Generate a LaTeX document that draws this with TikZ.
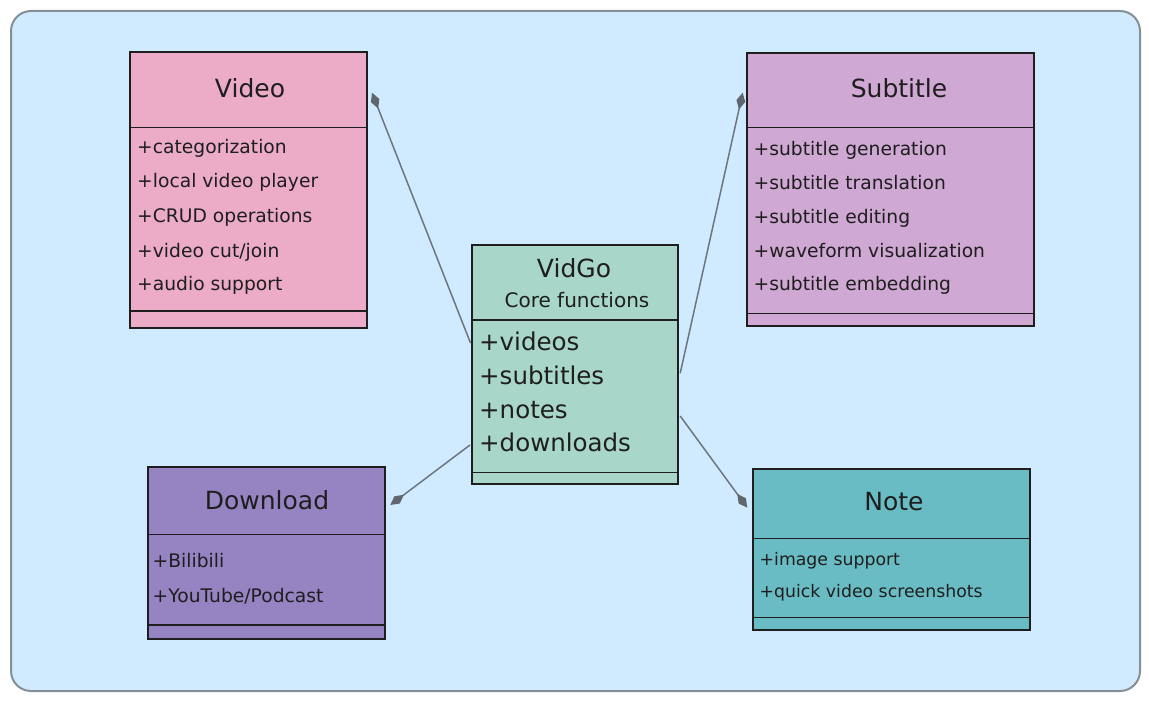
\documentclass[tikz,border=0pt]{standalone}
\usepackage{fontspec}
\setmainfont{DejaVu Sans}
\usetikzlibrary{arrows.meta,calc}
\definecolor{bgc}{HTML}{D0EBFF}
\definecolor{bgborder}{HTML}{868E96}
\definecolor{ink}{HTML}{1E1E1E}
\definecolor{videoc}{HTML}{ECACC7}
\definecolor{subc}{HTML}{CFA8D3}
\definecolor{downc}{HTML}{9583C2}
\definecolor{notec}{HTML}{6ABCC4}
\definecolor{corec}{HTML}{A8D6C8}
\definecolor{connc}{HTML}{6C7580}
\definecolor{diamc}{HTML}{5F666E}
\tikzset{
  umlbox/.style={draw=ink, line width=2pt, anchor=north west, inner sep=0pt},
  divider/.style={draw=ink, line width=1.1pt},
  ttl/.style={text=ink, font=\fontsize{25}{30}\selectfont, anchor=center, inner sep=0pt},
  subttl/.style={text=ink, font=\fontsize{20}{24}\selectfont, anchor=center, inner sep=0pt},
  item/.style={text=ink, font=\fontsize{18.7}{22}\selectfont, anchor=mid west, inner sep=0pt},
  noteitem/.style={text=ink, font=\fontsize{17.3}{21}\selectfont, anchor=mid west, inner sep=0pt},
  coreitem/.style={text=ink, font=\fontsize{24.5}{29}\selectfont, anchor=mid west, inner sep=0pt},
  conn/.style={draw=connc, line width=1.5pt, -{Diamond[length=17pt,width=9pt,fill=diamc,color=diamc]}}
}
\begin{document}
\begin{tikzpicture}[x=1pt,y=-1pt]
\useasboundingbox (0,0) rectangle (1149,701);
\node[draw=bgborder, fill=bgc, rounded corners=20pt, line width=2pt, minimum width=1129pt, minimum height=680pt, anchor=north west, inner sep=0pt] (bg) at (10,10) {};

% boxes
\node[umlbox, fill=videoc, minimum width=237pt, minimum height=276pt] (video) at (128.5,50.7) {};
\node[umlbox, fill=subc, minimum width=287pt, minimum height=273pt] (sub) at (745.7,51.7) {};
\node[umlbox, fill=corec, minimum width=205.7pt, minimum height=239pt] (core) at (471,244.3) {};
\node[umlbox, fill=downc, minimum width=237pt, minimum height=171.7pt] (down) at (147.3,466) {};
\node[umlbox, fill=notec, minimum width=277.3pt, minimum height=161.3pt] (note) at (751.7,467.7) {};

% dividers
\draw[divider] ($(video.north west)+(0,77)$) -- ($(video.north east)+(0,77)$);
\draw[divider] ($(video.north west)+(0,260.3)$) -- ($(video.north east)+(0,260.3)$);
\draw[divider] ($(sub.north west)+(0,75.6)$) -- ($(sub.north east)+(0,75.6)$);
\draw[divider] ($(sub.north west)+(0,261.6)$) -- ($(sub.north east)+(0,261.6)$);
\draw[divider] ($(core.north west)+(0,75.7)$) -- ($(core.north east)+(0,75.7)$);
\draw[divider] ($(core.north west)+(0,228.4)$) -- ($(core.north east)+(0,228.4)$);
\draw[divider] ($(down.north west)+(0,68.3)$) -- ($(down.north east)+(0,68.3)$);
\draw[divider] ($(down.north west)+(0,159)$) -- ($(down.north east)+(0,159)$);
\draw[divider] ($(note.north west)+(0,71)$) -- ($(note.north east)+(0,71)$);
\draw[divider] ($(note.north west)+(0,150)$) -- ($(note.north east)+(0,150)$);

% Video texts
\node[ttl] (videoT) at (250,88) {Video};
\node[item] (v1) at (137,151) {+categorization};
\node[item] (v2) at (137,185) {+local video player};
\node[item] (v3) at (137,219.5) {+CRUD operations};
\node[item] (v4) at (137,254.5) {+video cut/join};
\node[item] (v5) at (137,288) {+audio support};

% Subtitle texts
\node[ttl] (subT) at (899,88) {Subtitle};
\node[item] (s1) at (753.5,152.5) {+subtitle generation};
\node[item] (s2) at (753.5,186.5) {+subtitle translation};
\node[item] (s3) at (753.5,220.5) {+subtitle editing};
\node[item] (s4) at (753.5,254.5) {+waveform visualization};
\node[item] (s5) at (753.5,288) {+subtitle embedding};

% Core texts
\node[ttl] (coreT) at (574,268) {VidGo};
\node[subttl] (coreS) at (577,300) {Core functions};
\node[coreitem] (c1) at (479,347.5) {+videos};
\node[coreitem] (c2) at (479,381.5) {+subtitles};
\node[coreitem] (c3) at (479,415.5) {+notes};
\node[coreitem] (c4) at (479,448.5) {+downloads};

% Download texts
\node[ttl] (downT) at (267,500) {Download};
\node[item] (d1) at (152.5,565) {+Bilibili};
\node[item] (d2) at (152.5,599.5) {+YouTube/Podcast};

% Note texts
\node[ttl] (noteT) at (894,502) {Note};
\node[noteitem] (n1) at (759.5,563) {+image support};
\node[noteitem] (n2) at (759.5,594.5) {+quick video screenshots};

% connectors
\draw[conn] ($(core.north west)+(-0.5,98.7)$) -- ($(video.north east)+(4.5,42)$);
\draw[conn] ($(core.north east)+(1.5,129)$) -- ($(sub.north west)+(-3,41)$);
\draw[conn] ($(core.north west)+(-1,200.7)$) -- ($(down.north east)+(4,39)$);
\draw[conn] ($(core.north east)+(1.5,171.7)$) -- ($(note.north west)+(-4.4,40)$);
\end{tikzpicture}
\end{document}
